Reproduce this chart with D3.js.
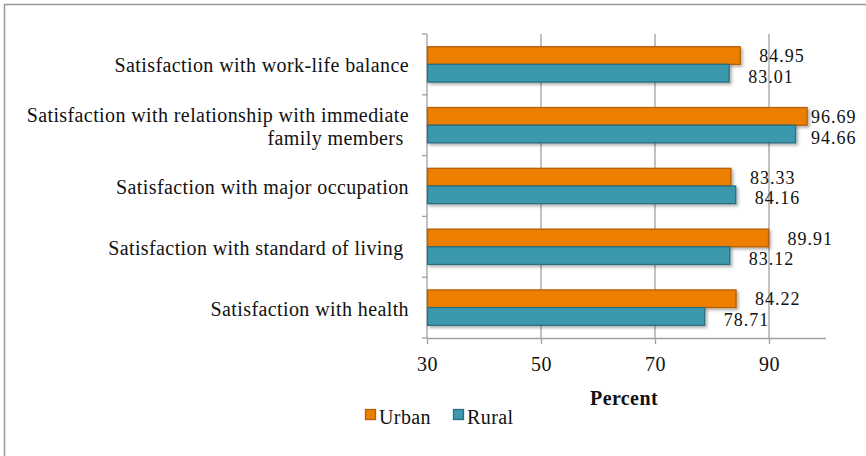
<!DOCTYPE html>
<html><head><meta charset="utf-8">
<script src="https://cdn.jsdelivr.net/npm/d3@7/dist/d3.min.js"></script>
<style>
html,body{margin:0;padding:0;background:#fff;}
svg{display:block;}
text{font-family:"Liberation Serif","Times New Roman",serif;fill:#111;letter-spacing:0.4px;}
</style></head>
<body><svg id="c" width="866" height="456"></svg>
<script>
const categories = [
  ["Satisfaction with work-life balance"],
  ["Satisfaction with relationship with immediate", "family members "],
  ["Satisfaction with major occupation"],
  ["Satisfaction with standard of living "],
  ["Satisfaction with health"]
];
const urban = [84.95, 96.69, 83.33, 89.91, 84.22];
const rural = [83.01, 94.66, 84.16, 83.12, 78.71];
const seriesNames = ["Urban", "Rural"];
const seriesColors = ["#EC7F00", "#3B98AD"];
const seriesStroke = ["#B65F08", "#2A6E80"];
const xTicks = [30, 50, 70, 90];
const xTitle = "Percent";

(function(){
const svg = d3.select("#c");
const fs = 20;

svg.append("rect").attr("x",4.5).attr("y",4.5).attr("width",900).attr("height",500)
  .attr("fill","none").attr("stroke","#9a9a9a").attr("stroke-width",1.5);

const pl = 427, pr = 826, pt = 34, pb = 338;
const x = d3.scaleLinear().domain([30, 100]).range([pl, pr]);
const y = d3.scaleBand().domain(d3.range(categories.length)).range([pt, pb]).paddingInner(0).paddingOuter(0);
const inner = d3.scaleBand().domain([0,1]).range([0, y.bandwidth()]).paddingInner(0).paddingOuter(0.72);

// grid
svg.append("g").selectAll("line").data(xTicks.slice(1)).join("line")
  .attr("x1", d=>x(d)).attr("x2", d=>x(d)).attr("y1", pt).attr("y2", pb)
  .attr("stroke","#a0a0a0").attr("stroke-width",1.3);

// axes
const xa = svg.append("g").attr("transform",`translate(0,${pb})`)
  .call(d3.axisBottom(x).tickValues(xTicks).tickSize(6).tickPadding(13).tickSizeOuter(0));
xa.select(".domain").attr("stroke","#a0a0a0").attr("stroke-width",1.3).attr("d",`M${pl},0.5H${pr}`);
xa.selectAll(".tick line").attr("stroke","#a0a0a0").attr("stroke-width",1.3);
xa.selectAll(".tick text").attr("font-size",fs).attr("font-family","Liberation Serif").attr("fill","#111");

const ya = svg.append("g").attr("transform",`translate(${pl},0)`);
ya.append("line").attr("x1",0).attr("x2",0).attr("y1",pt).attr("y2",pb).attr("stroke","#a0a0a0").attr("stroke-width",1.3);
ya.selectAll("line.t").data(d3.range(categories.length+1)).join("line").attr("class","t")
  .attr("x1",-5).attr("x2",0).attr("y1",d=>pt + d*y.step()).attr("y2",d=>pt + d*y.step())
  .attr("stroke","#a0a0a0").attr("stroke-width",1.3);

// category labels
const cl = svg.append("g");
categories.forEach((lines,i)=>{
  const cy = y(i) + y.bandwidth()/2;
  const lh = 23;
  const t = cl.append("text").attr("text-anchor","end").attr("font-size",fs).attr("xml:space","preserve");
  lines.forEach((ln,j)=>{
    t.append("tspan").attr("x", pl-18).attr("y", cy + 8 + (j-(lines.length-1)/2)*lh).text(ln);
  });
});

// bars
const data = [urban, rural];
const defs = svg.append("defs");
const f = defs.append("filter").attr("id","sh").attr("x","-5%").attr("y","-20%").attr("width","115%").attr("height","160%");
f.append("feDropShadow").attr("dx",2).attr("dy",2).attr("stdDeviation",1.5).attr("flood-color","#000").attr("flood-opacity",0.3);

data.forEach((vals,s)=>{
  svg.append("g").selectAll("rect").data(vals).join("rect")
    .attr("x", x(30)+0.5).attr("y",(d,i)=>y(i)+inner(s))
    .attr("width", d=>x(d)-x(30)-0.5).attr("height", inner.bandwidth())
    .attr("fill", seriesColors[s]).attr("stroke", seriesStroke[s]).attr("stroke-width",1.3)
    .attr("filter","url(#sh)");
});

// value labels
data.forEach((vals,s)=>{
  svg.append("g").selectAll("text").data(vals).join("text")
    .attr("x", d=>Math.min(x(d)+19, 811))
    .attr("y", (d,i)=>y(i)+inner(s)+inner.bandwidth() + (s===0 ? -2.3 : 0.7))
    .attr("font-size",18).style("letter-spacing","1px").text(d=>d.toFixed(2));
});

// x title
svg.append("text").attr("x",624).attr("y",405).attr("text-anchor","middle")
  .attr("font-size",fs).attr("font-weight","bold").text(xTitle);

// legend
const lg = svg.append("g");
const lx = [365, 453];
seriesNames.forEach((n,i)=>{
  lg.append("rect").attr("x",lx[i]+0.5).attr("y",409.5).attr("width",10).attr("height",10)
    .attr("fill",seriesColors[i]).attr("stroke",seriesStroke[i]).attr("stroke-width",1.3);
  lg.append("text").attr("x",lx[i]+14).attr("y",424).attr("font-size",fs).text(n);
});
})();
</script></body></html>
